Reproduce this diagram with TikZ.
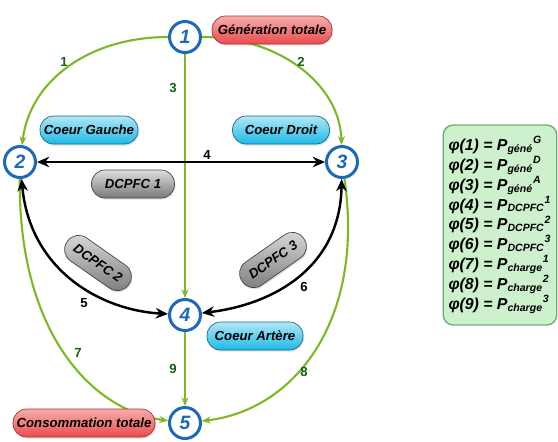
\documentclass[tikz,border=0pt]{standalone}
\usepackage{fontspec}
\setmainfont{Liberation Sans}
\usetikzlibrary{arrows.meta, shadows}

\definecolor{flowgreen}{RGB}{125,184,38}
\definecolor{numgreen}{RGB}{20,95,20}
\definecolor{busblue}{RGB}{28,105,185}
\definecolor{tagred}{RGB}{235,75,75}
\definecolor{tagcyan}{RGB}{30,185,230}
\definecolor{taggray}{RGB}{120,120,120}
\definecolor{legfill}{RGB}{205,240,205}
\definecolor{legdraw}{RGB}{110,175,110}

\begin{document}
\begin{tikzpicture}[x=0.02cm, y=-0.02cm,
    bus/.style={circle, draw=busblue, line width=1.7pt, fill=white, minimum size=0.62cm, inner sep=0pt,
      font=\fontsize{11}{11}\selectfont\bfseries\itshape, text=busblue},
    tag/.style={rounded corners=0.27cm, minimum height=0.56cm, inner sep=2pt,
      font=\fontsize{7.5}{8}\selectfont\bfseries\itshape,
      drop shadow={opacity=0.25, shadow xshift=0.6pt, shadow yshift=-0.9pt}},
    redtag/.style={tag, draw=tagred!70!black, top color=tagred!45, bottom color=tagred},
    cyantag/.style={tag, draw=tagcyan!60!black, top color=tagcyan!35, bottom color=tagcyan},
    graytag/.style={tag, draw=taggray!60!black, top color=taggray!25, bottom color=taggray},
    flow/.style={-{Stealth[length=5pt,width=4pt]}, line width=1.2pt, flowgreen},
    power/.style={{Stealth[length=7pt,width=6pt]}-{Stealth[length=7pt,width=6pt]}, line width=1.4pt, black},
    num/.style={font=\fontsize{7.5}{8}\selectfont\bfseries, text=numgreen},
    blacknum/.style={num, text=black}
  ]
  \useasboundingbox (0,0) rectangle (558,441);

  % --- bus nodes ---
  \node[bus] (n1) at (185,37) {1};
  \node[bus] (n2) at (20,162) {2};
  \node[bus] (n3) at (342,162) {3};
  \node[bus] (n4) at (185,315) {4};
  \node[bus] (n5) at (185,423) {5};

  % --- green flows ---
  \draw[flow] (n1) .. controls (90,37) and (30,80) .. (n2);
  \draw[flow] (n1) .. controls (280,37) and (340,85) .. (n3);
  \draw[flow] (n1) -- (n4);
  \draw[flow] (n2) .. controls (18,330) and (90,410) .. (n5);
  \draw[flow] (n3) .. controls (365,320) and (295,410) .. (n5);
  \draw[flow] (n4) -- (n5);

  % --- DCPFC exchanges ---
  \draw[power] (n2) -- (n3);
  \draw[power] (n2) .. controls (30,270) and (100,310) .. (n4);
  \draw[power] (n3) .. controls (340,270) and (270,305) .. (n4);

  % --- flow numbers ---
  \node[num] (l1) at (64,62) {1};
  \node[num] (l2) at (301,62) {2};
  \node[num] (l3) at (173,88) {3};
  \node[blacknum] (l4) at (207,155) {4};
  \node[blacknum] (l5) at (84,303) {5};
  \node[blacknum] (l6) at (304,287) {6};
  \node[num] (l7) at (78,353) {7};
  \node[num] (l8) at (304,372) {8};
  \node[num] (l9) at (173,369) {9};

  % --- tags ---
  \node[redtag, minimum width=2.4cm] (gen) at (272,30) {Génération totale};
  \node[redtag, minimum width=2.84cm] (cons) at (84,423) {Consommation totale};
  \node[cyantag, minimum width=1.96cm] (cg) at (89,130) {Coeur Gauche};
  \node[cyantag, minimum width=1.94cm] (cd) at (281,130) {Coeur Droit};
  \node[cyantag, minimum width=1.92cm] (ca) at (255,336) {Coeur Artère};
  \node[graytag, minimum width=1.66cm] (d1) at (133,184) {DCPFC 1};
  \node[graytag, minimum width=1.5cm, rotate=-35] (d2) at (98,263) {DCPFC 2};
  \node[graytag, minimum width=1.5cm, rotate=35] (d3) at (273,260) {DCPFC 3};

  % --- legend ---
  \node[draw=legdraw, line width=0.8pt, fill=legfill, rounded corners=0.2cm,
    minimum width=2.2cm, minimum height=4cm, align=left, inner sep=3pt,
    font=\fontsize{9}{11.3}\selectfont\bfseries\itshape] (leg) at (500,225)
    {φ(1) = P\textsubscript{géné}\textsuperscript{G}\\
     φ(2) = P\textsubscript{géné}\textsuperscript{D}\\
     φ(3) = P\textsubscript{géné}\textsuperscript{A}\\
     φ(4) = P\textsubscript{DCPFC}\textsuperscript{1}\\
     φ(5) = P\textsubscript{DCPFC}\textsuperscript{2}\\
     φ(6) = P\textsubscript{DCPFC}\textsuperscript{3}\\
     φ(7) = P\textsubscript{charge}\textsuperscript{1}\\
     φ(8) = P\textsubscript{charge}\textsuperscript{2}\\
     φ(9) = P\textsubscript{charge}\textsuperscript{3}};
\end{tikzpicture}
\end{document}
